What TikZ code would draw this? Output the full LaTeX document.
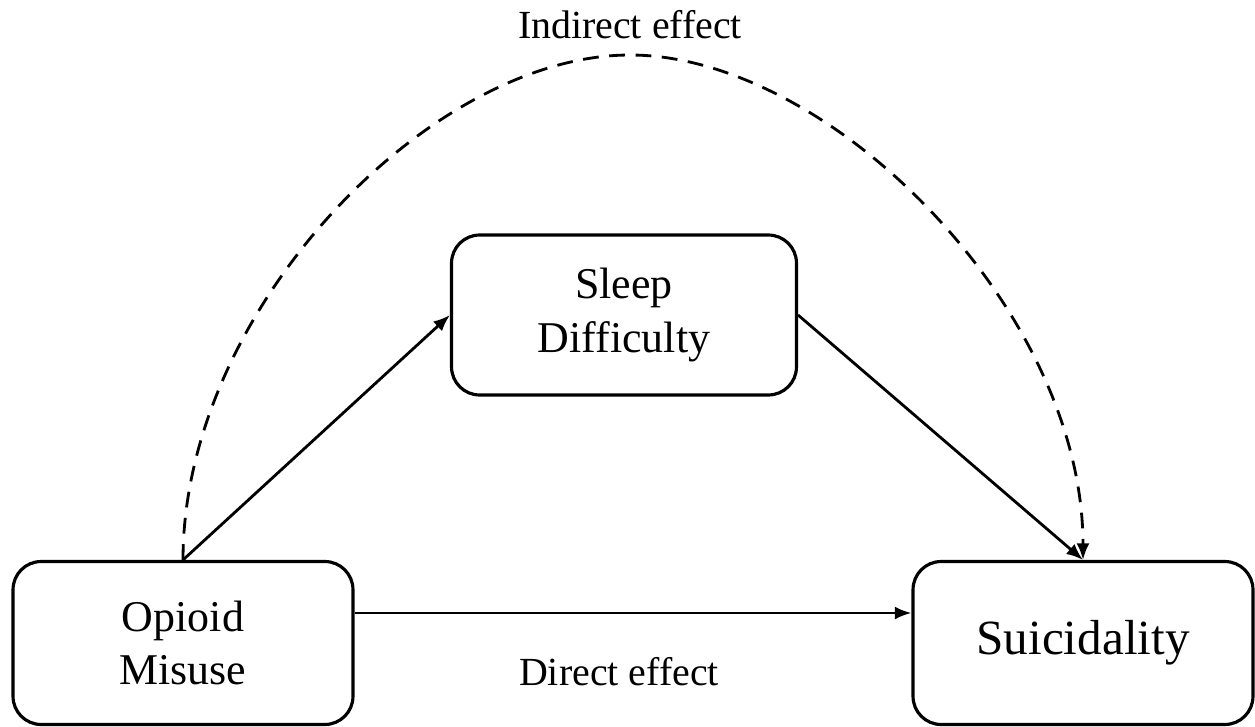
\documentclass[tikz,border=0pt]{standalone}
\usepackage{fontspec}
\setmainfont{Liberation Serif}
\usetikzlibrary{arrows.meta}

\tikzset{
  varbox/.style={draw, line width=1.8pt, rounded corners=16pt, align=center,
    inner sep=0pt, minimum width=6.8cm, minimum height=3.26cm,
    font=\fontsize{25}{30.6}\selectfont},
  effect/.style={anchor=base, font=\fontsize{22.7}{27}\selectfont},
  link/.style={line width=1.6pt, -{Latex[length=9.5pt,width=7.5pt]}},
  dashlink/.style={link, dash pattern=on 9pt off 6pt}
}

\begin{document}
\begin{tikzpicture}[x=0.02cm, y=-0.02cm]
  \useasboundingbox (0,0) rectangle (1255,727);

  \node[varbox] (opioid) at (183,643) {Opioid\\Misuse};
  \node[varbox, minimum width=6.9cm, minimum height=3.2cm] (sleep) at (624,315) {Sleep\\Difficulty};
  \node[varbox, font=\fontsize{28}{34}\selectfont] (suicid) at (1083,643) {Suicidality};
  \coordinate (peak) at (630,55);

  \draw[link] (opioid.north) -- (sleep.west);
  \draw[link] (sleep.east) -- (suicid.north);
  \draw[link] ([yshift=0.6cm]opioid.east) -- ([yshift=0.6cm]suicid.west);
  \draw[dashlink] (opioid.north) .. controls (183,310) and (430,55) .. (peak)
    .. controls (830,55) and (1083,310) .. (suicid.north);

  \node[effect] (indirect) at (630,38) {Indirect effect};
  \node[effect] (direct) at (619,685) {Direct effect};
\end{tikzpicture}
\end{document}
